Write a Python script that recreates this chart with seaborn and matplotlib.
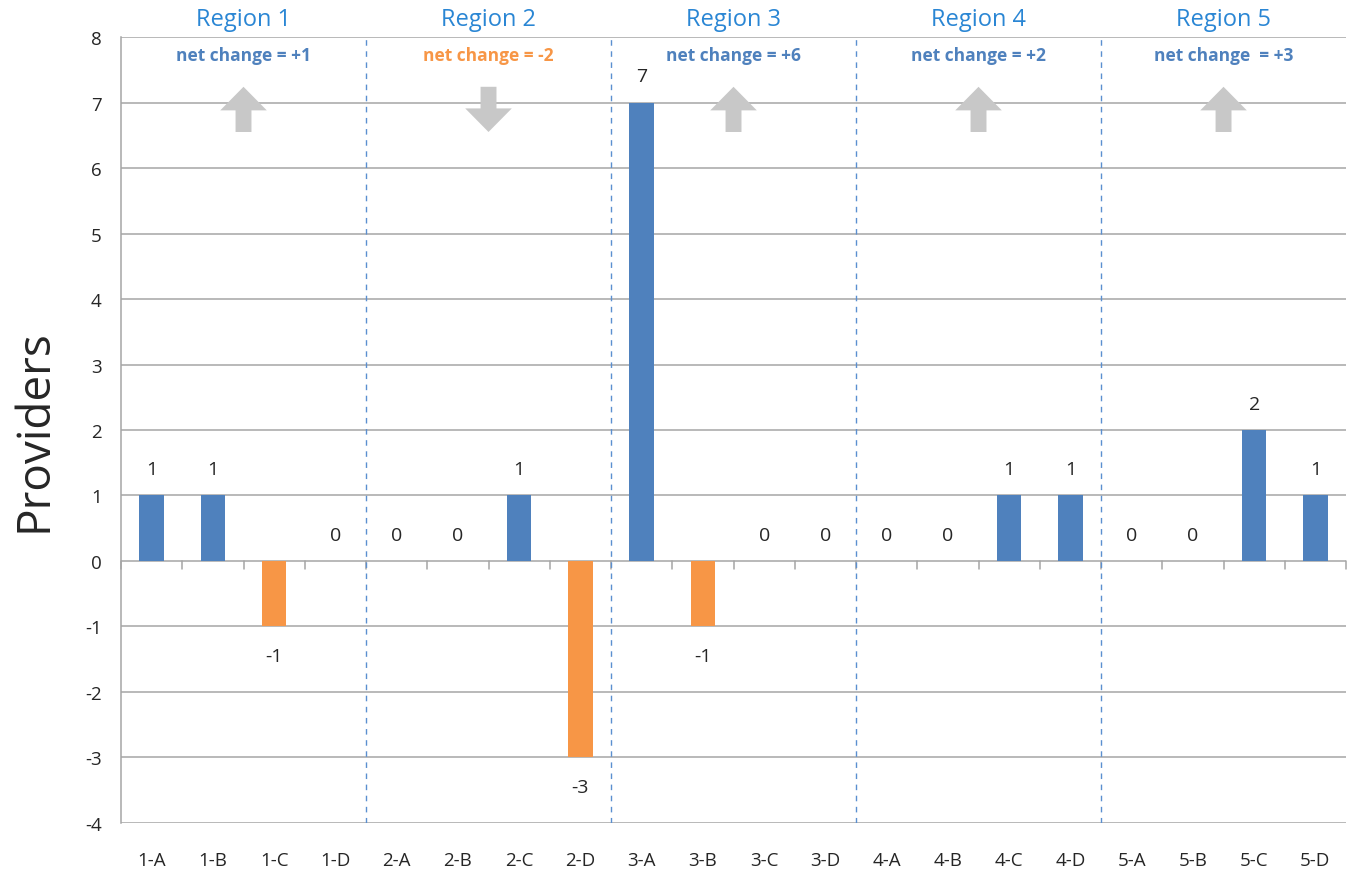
import matplotlib
matplotlib.use('Agg')

import pandas as pd
import matplotlib.pyplot as plt
import seaborn as sns
from matplotlib.patches import FancyArrow

# data
categories = ['1-A', '1-B', '1-C', '1-D', '2-A', '2-B', '2-C', '2-D', '3-A', '3-B',
              '3-C', '3-D', '4-A', '4-B', '4-C', '4-D', '5-A', '5-B', '5-C', '5-D']
values = [1, 1, -1, 0, 0, 0, 1, -3, 7, -1, 0, 0, 0, 0, 1, 1, 0, 0, 2, 1]
regions = ['Region 1', 'Region 2', 'Region 3', 'Region 4', 'Region 5']
net_labels = ['net change = +1', 'net change = -2', 'net change = +6',
              'net change = +2', 'net change  = +3']
net_changes = [1, -2, 6, 2, 3]

BLUE = '#4F81BD'
ORANGE = '#F79646'
TITLE_BLUE = '#2A86D4'
GRID = '#A6A6A6'

sns.set_style('white')
plt.rcParams['font.family'] = ['Open Sans', 'DejaVu Sans']
plt.rcParams['axes.unicode_minus'] = False

df = pd.DataFrame({'cat': categories, 'val': values})
df['sign'] = ['neg' if v < 0 else 'pos' for v in values]

fig = plt.figure(figsize=(13.49, 8.7), dpi=100)
ax = fig.add_axes([0.0897, 0.0529, 0.9081, 0.9034])

sns.barplot(data=df, x='cat', y='val', hue='sign', palette={'pos': BLUE, 'neg': ORANGE},
            width=0.4, dodge=False, legend=False, ax=ax, zorder=3, saturation=1,
            linewidth=0)

ax.set_ylim(-4, 8)
ax.set_xlim(-0.5, len(categories) - 0.5)
ax.set_yticks(range(-4, 9))
for y in range(-4, 9):
    ax.axhline(y, color=GRID, lw=1.1, zorder=1)

for s in ['top', 'right', 'bottom']:
    ax.spines[s].set_visible(False)
ax.spines['left'].set_color(GRID)
ax.spines['left'].set_linewidth(1.1)
ax.tick_params(axis='y', length=8, color=GRID, width=1.1, labelsize=13.5, pad=6)
ax.tick_params(axis='x', length=0, labelsize=13.5, pad=20)
ax.set_xlabel('')
ax.set_ylabel('Providers', fontsize=33, labelpad=20)

# category tick marks on the zero line
for i in range(len(categories) + 1):
    ax.plot([i - 0.5, i - 0.5], [0, -0.12], color=GRID, lw=1.1, zorder=2, clip_on=False)

# dashed separators between regions
for k in range(1, len(regions)):
    ax.axvline(4 * k - 0.5, color='#5B8FD0', lw=1, ls=(0, (4, 4)), zorder=2)

# value labels
for i, v in enumerate(values):
    if v < 0:
        ax.text(i, v - 0.45, str(v), ha='center', va='center', fontsize=14)
    else:
        ax.text(i, v + 0.4, str(v), ha='center', va='center', fontsize=14)

# region titles, net change text and arrows
for k, name in enumerate(regions):
    cx = 4 * k + 1.5
    ax.text(cx, 8.28, name, ha='center', va='center', fontsize=17,
            color=TITLE_BLUE, clip_on=False)
    col = BLUE if net_changes[k] > 0 else ORANGE
    ax.text(cx, 7.72, net_labels[k], ha='center', va='center', fontsize=12.5,
            fontweight='bold', color=col)
    if net_changes[k] > 0:
        arr = FancyArrow(cx, 6.55, 0, 0.69, width=0.26, head_width=0.76,
                         head_length=0.36, length_includes_head=True,
                         color='#C8C8C8', lw=0, zorder=4)
    else:
        arr = FancyArrow(cx, 7.24, 0, -0.69, width=0.26, head_width=0.76,
                         head_length=0.36, length_includes_head=True,
                         color='#C8C8C8', lw=0, zorder=4)
    ax.add_patch(arr)

fig.savefig('out.png', dpi=100)
